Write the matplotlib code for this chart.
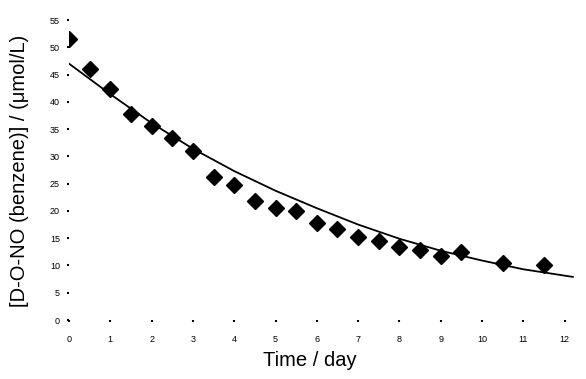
import matplotlib
matplotlib.use("Agg")
import matplotlib.pyplot as plt

plt.rcParams["font.family"] = ["Liberation Sans", "DejaVu Sans"]

# measured concentrations
days = [0, 0.5, 1, 1.5, 2, 2.5, 3, 3.5, 4, 4.5, 5, 5.5, 6, 6.5, 7, 7.5,
        8, 8.5, 9, 9.5, 10.5, 11.5]
conc = [51.5, 46.0, 42.3, 37.7, 35.6, 33.4, 30.9, 26.3, 24.8, 21.8, 20.5,
        20.0, 17.7, 16.7, 15.3, 14.4, 13.3, 12.8, 11.7, 12.5, 10.4, 10.0]

# fitted curve
fit_days = [0, 1, 2, 3, 4, 5, 6, 7, 8, 9, 10, 11, 12.2]
fit_conc = [47.0, 41.4, 36.1, 31.4, 27.3, 23.7, 20.5, 17.5, 14.9, 12.7,
            10.9, 9.3, 7.9]

x_ticks = list(range(0, 13))
y_ticks = list(range(0, 60, 5))

fig = plt.figure(figsize=(5.86, 3.79), dpi=100)
ax = fig.add_axes([69 / 586, 59 / 379, 508 / 586, 300 / 379])

ax.plot(fit_days, fit_conc, color="black", lw=1.3)
ax.plot(days, conc, ls="none", marker="D", ms=8, color="black")

ax.set_xlim(0, 12.3)
ax.set_ylim(0, 55)
ax.set_xticks(x_ticks)
ax.set_yticks(y_ticks)
for s in ax.spines.values():
    s.set_visible(False)
ax.tick_params(labelsize=6.5, length=1.5, width=1.5)
ax.tick_params(axis="x", pad=9)
ax.tick_params(axis="y", pad=5)

ax.set_xlabel("Time / day", fontsize=14.5)
ax.set_ylabel("[D-O-NO (benzene)] / (μmol/L)", fontsize=14.5)
ax.xaxis.set_label_coords(0.474, -0.105)
ax.yaxis.set_label_coords(-0.078, 0.497)

fig.savefig("out.png", dpi=100)
